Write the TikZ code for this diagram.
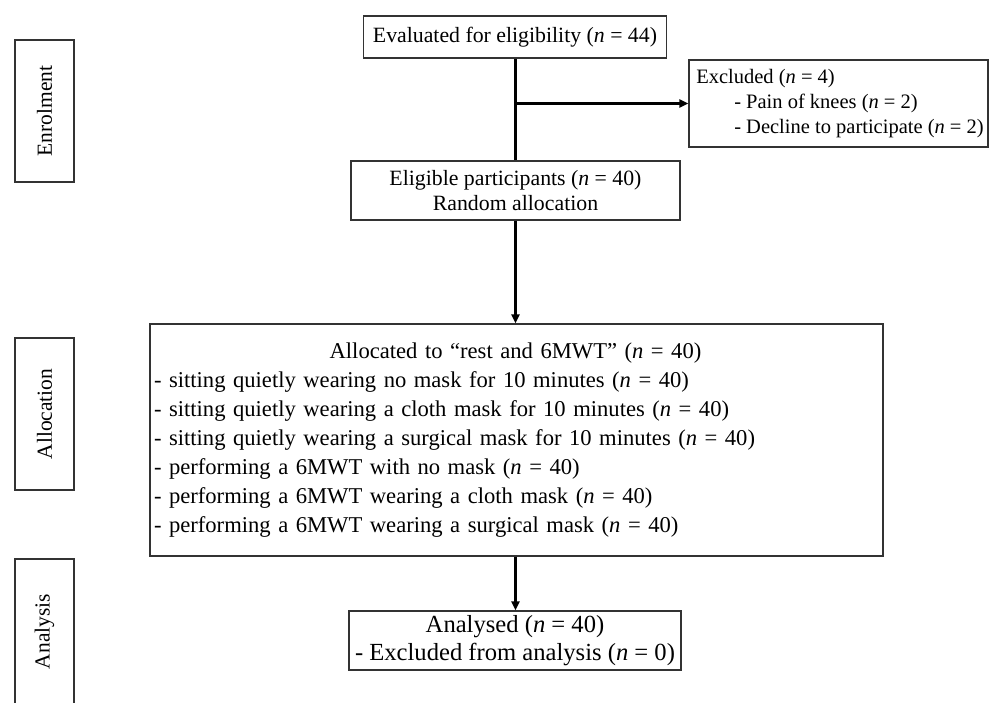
\documentclass[tikz,border=0pt]{standalone}
\usepackage{fontspec}
\setmainfont{Liberation Serif}
\usetikzlibrary{arrows.meta}
\begin{document}
\begin{tikzpicture}[x=1pt,y=-1pt,
  box/.style={draw=black!80, line width=1.3pt, rectangle, inner sep=0pt},
  lab/.style={box, rotate=90, minimum height=59pt, font=\fontsize{21.5}{24}\selectfont},
  conn/.style={line width=2.2pt, black},
  arr/.style={conn, -{Triangle[length=9pt,width=8pt]}}]
\useasboundingbox (0,0) rectangle (992,702);
\fill[white] (0,0) rectangle (992,702);
% stage labels
\node[lab, minimum width=142pt] (enr) at (44.5,111) {Enrolment};
\node[lab, minimum width=152pt] (allocl) at (44.5,414) {Allocation};
\node[lab, minimum width=145pt] (anl) at (44.5,631.5) {Analysis};
% flow boxes
\node[box, minimum width=303pt, minimum height=42pt, font=\fontsize{21.8}{25}\selectfont] (eval) at (515,37)
  {Evaluated for eligibility (\textit{n} = 44)};
\node[box, minimum width=299pt, minimum height=87pt, align=left, font=\fontsize{20.5}{25}\selectfont] (excl) at (838.5,103.5)
  {\hspace*{3pt}Excluded (\textit{n} = 4)\\\hspace*{41pt}- Pain of knees (\textit{n} = 2)\\\hspace*{41pt}- Decline to participate (\textit{n} = 2)};
\node[box, minimum width=329pt, minimum height=59pt, align=center, font=\fontsize{21.8}{25}\selectfont] (elig) at (515.5,190.5)
  {Eligible participants (\textit{n} = 40)\\Random allocation};
\node[box, minimum width=733pt, minimum height=232pt, text width=725pt, align=left, font=\fontsize{22.6}{29}\selectfont] (alloc) at (516.5,440)
  {\makebox[725pt][c]{\hspace*{-2pt}Allocated to “rest and 6MWT” (\textit{n} = 40)}\\
   - sitting quietly wearing no mask for 10 minutes (\textit{n} = 40)\\
   - sitting quietly wearing a cloth mask for 10 minutes (\textit{n} = 40)\\
   - sitting quietly wearing a surgical mask for 10 minutes (\textit{n} = 40)\\
   - performing a 6MWT with no mask (\textit{n} = 40)\\
   - performing a 6MWT wearing a cloth mask (\textit{n} = 40)\\
   - performing a 6MWT wearing a surgical mask (\textit{n} = 40)};
\node[box, minimum width=332pt, minimum height=59pt, align=center, font=\fontsize{24.6}{28}\selectfont] (anal) at (515,640.5)
  {Analysed (\textit{n} = 40)\\- Excluded from analysis (\textit{n} = 0)};
% connectors
\coordinate (branch) at (515,103.5);
\draw[conn] (eval.south -| elig.north) -- (elig.north);
\draw[arr] (branch) -- (excl.west);
\draw[arr] (elig.south) -- (elig.south |- alloc.north);
\draw[arr] (alloc.south -| elig.south) -- (elig.south |- anal.north);
\end{tikzpicture}
\end{document}
